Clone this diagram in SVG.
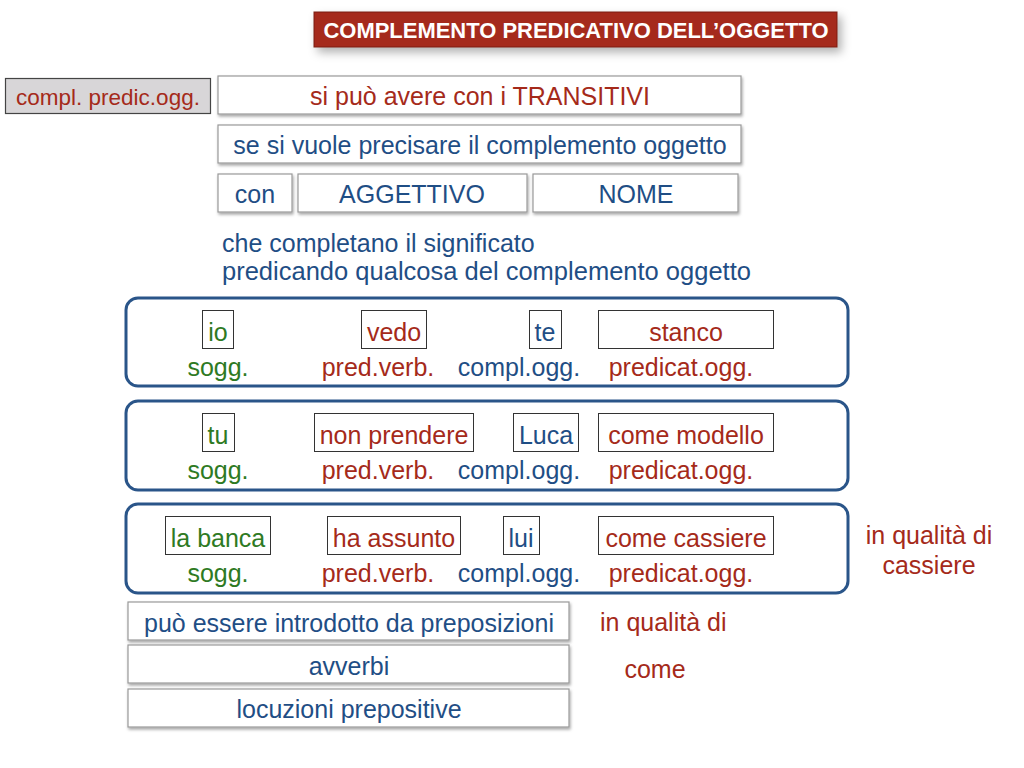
<svg xmlns="http://www.w3.org/2000/svg" width="1024" height="768" viewBox="0 0 1024 768">
<defs>
<filter id="sh" x="-10%" y="-30%" width="120%" height="170%">
<feDropShadow dx="1" dy="2" stdDeviation="1.5" flood-color="#000" flood-opacity="0.35"/>
</filter>
<filter id="tsh" x="-20%" y="-50%" width="140%" height="250%">
<feDropShadow dx="4" dy="5" stdDeviation="5" flood-color="#000" flood-opacity="0.3"/>
</filter>
</defs>
<style>
text{font-family:"Liberation Sans",Arial,sans-serif;font-size:25px;text-anchor:middle}
.r{fill:#a52a1a}.b{fill:#1f4e85}.g{fill:#2e7a23}
.box{fill:#fff;stroke:#999;stroke-width:1.2}
.wb{fill:#fff;stroke:#333;stroke-width:1}
.grp{fill:#fff;stroke:#2a5589;stroke-width:3}
</style>
<rect width="1024" height="768" fill="#fff"/>
<g id="title">
<rect x="314" y="12" width="523" height="35" fill="#a52a1a" stroke="#7a1e12" stroke-width="1" filter="url(#tsh)"/>
<text x="576" y="38" style="font-size:21.5px;font-weight:bold;fill:#fff" textLength="505" lengthAdjust="spacingAndGlyphs">COMPLEMENTO PREDICATIVO DELL’OGGETTO</text>
</g>
<g id="label">
<rect x="5.5" y="78.5" width="205" height="35" fill="#d8d6d8" stroke="#444" stroke-width="1.2"/>
<text x="108" y="105" class="r" style="font-size:22.5px">compl. predic.ogg.</text>
</g>
<g id="transitivi">
<rect x="218" y="76" width="523" height="38" class="box" filter="url(#sh)"/>
<text x="480" y="105" class="r">si può avere con i TRANSITIVI</text>
</g>
<g id="precisare">
<rect x="218" y="125" width="523" height="38" class="box" filter="url(#sh)"/>
<text x="480" y="154" class="b">se si vuole precisare il complemento oggetto</text>
</g>
<g id="con">
<rect x="218" y="174" width="74" height="38" class="box" filter="url(#sh)"/>
<text x="255" y="203" class="b">con</text>
</g>
<g id="aggettivo">
<rect x="298" y="174" width="229" height="38" class="box" filter="url(#sh)"/>
<text x="412" y="203" class="b">AGGETTIVO</text>
</g>
<g id="nome">
<rect x="533" y="174" width="205" height="38" class="box" filter="url(#sh)"/>
<text x="636" y="203" class="b">NOME</text>
</g>
<g id="spiegazione">
<text x="222" y="252" class="b" style="text-anchor:start">che completano il significato</text>
<text x="222" y="280" class="b" style="text-anchor:start" textLength="529" lengthAdjust="spacingAndGlyphs">predicando qualcosa del complemento oggetto</text>
</g>
<g id="esempio1">
<rect x="126" y="298" width="722" height="88" rx="12" class="grp"/>
<rect x="202.5" y="310.5" width="31" height="38" class="wb"/>
<text x="218" y="341" class="g">io</text>
<rect x="361.5" y="310.5" width="65" height="38" class="wb"/>
<text x="394" y="341" class="r">vedo</text>
<rect x="529.5" y="310.5" width="32" height="38" class="wb"/>
<text x="545" y="341" class="b">te</text>
<rect x="598.5" y="310.5" width="175" height="38" class="wb"/>
<text x="686" y="341" class="r">stanco</text>
<text x="218" y="376" class="g">sogg.</text>
<text x="378" y="376" class="r">pred.verb.</text>
<text x="519" y="376" class="b">compl.ogg.</text>
<text x="681" y="376" class="r">predicat.ogg.</text>
</g>
<g id="esempio2">
<rect x="126" y="401" width="722" height="89" rx="12" class="grp"/>
<rect x="202.5" y="413.5" width="32" height="38" class="wb"/>
<text x="218" y="444" class="g">tu</text>
<rect x="314.5" y="413.5" width="159" height="38" class="wb"/>
<text x="394" y="444" class="r">non prendere</text>
<rect x="513.5" y="413.5" width="65" height="38" class="wb"/>
<text x="546" y="444" class="b">Luca</text>
<rect x="598.5" y="413.5" width="175" height="38" class="wb"/>
<text x="686" y="444" class="r">come modello</text>
<text x="218" y="479" class="g">sogg.</text>
<text x="378" y="479" class="r">pred.verb.</text>
<text x="519" y="479" class="b">compl.ogg.</text>
<text x="681" y="479" class="r">predicat.ogg.</text>
</g>
<g id="esempio3">
<rect x="126" y="504" width="722" height="89" rx="12" class="grp"/>
<rect x="165.5" y="516.5" width="105" height="38" class="wb"/>
<text x="218" y="547" class="g">la banca</text>
<rect x="327.5" y="516.5" width="133" height="38" class="wb"/>
<text x="394" y="547" class="r">ha assunto</text>
<rect x="503.5" y="516.5" width="36" height="38" class="wb"/>
<text x="521" y="547" class="b">lui</text>
<rect x="598.5" y="516.5" width="175" height="38" class="wb"/>
<text x="686" y="547" class="r">come cassiere</text>
<text x="218" y="582" class="g">sogg.</text>
<text x="378" y="582" class="r">pred.verb.</text>
<text x="519" y="582" class="b">compl.ogg.</text>
<text x="681" y="582" class="r">predicat.ogg.</text>
</g>
<g id="nota-cassiere">
<text x="929" y="544" class="r">in qualità di</text>
<text x="929" y="574" class="r">cassiere</text>
</g>
<g id="preposizioni">
<rect x="128" y="602" width="441" height="38" class="box" filter="url(#sh)"/>
<text x="349" y="632" class="b">può essere introdotto da preposizioni</text>
</g>
<g id="avverbi">
<rect x="128" y="645" width="441" height="38" class="box" filter="url(#sh)"/>
<text x="349" y="675" class="b">avverbi</text>
</g>
<g id="locuzioni">
<rect x="128" y="689" width="441" height="38" class="box" filter="url(#sh)"/>
<text x="349" y="718" class="b">locuzioni prepositive</text>
</g>
<g id="esempi-prep">
<text x="600" y="631" class="r" style="text-anchor:start">in qualità di</text>
<text x="655" y="678" class="r">come</text>
</g>
<g id="connectors"></g>
</svg>
